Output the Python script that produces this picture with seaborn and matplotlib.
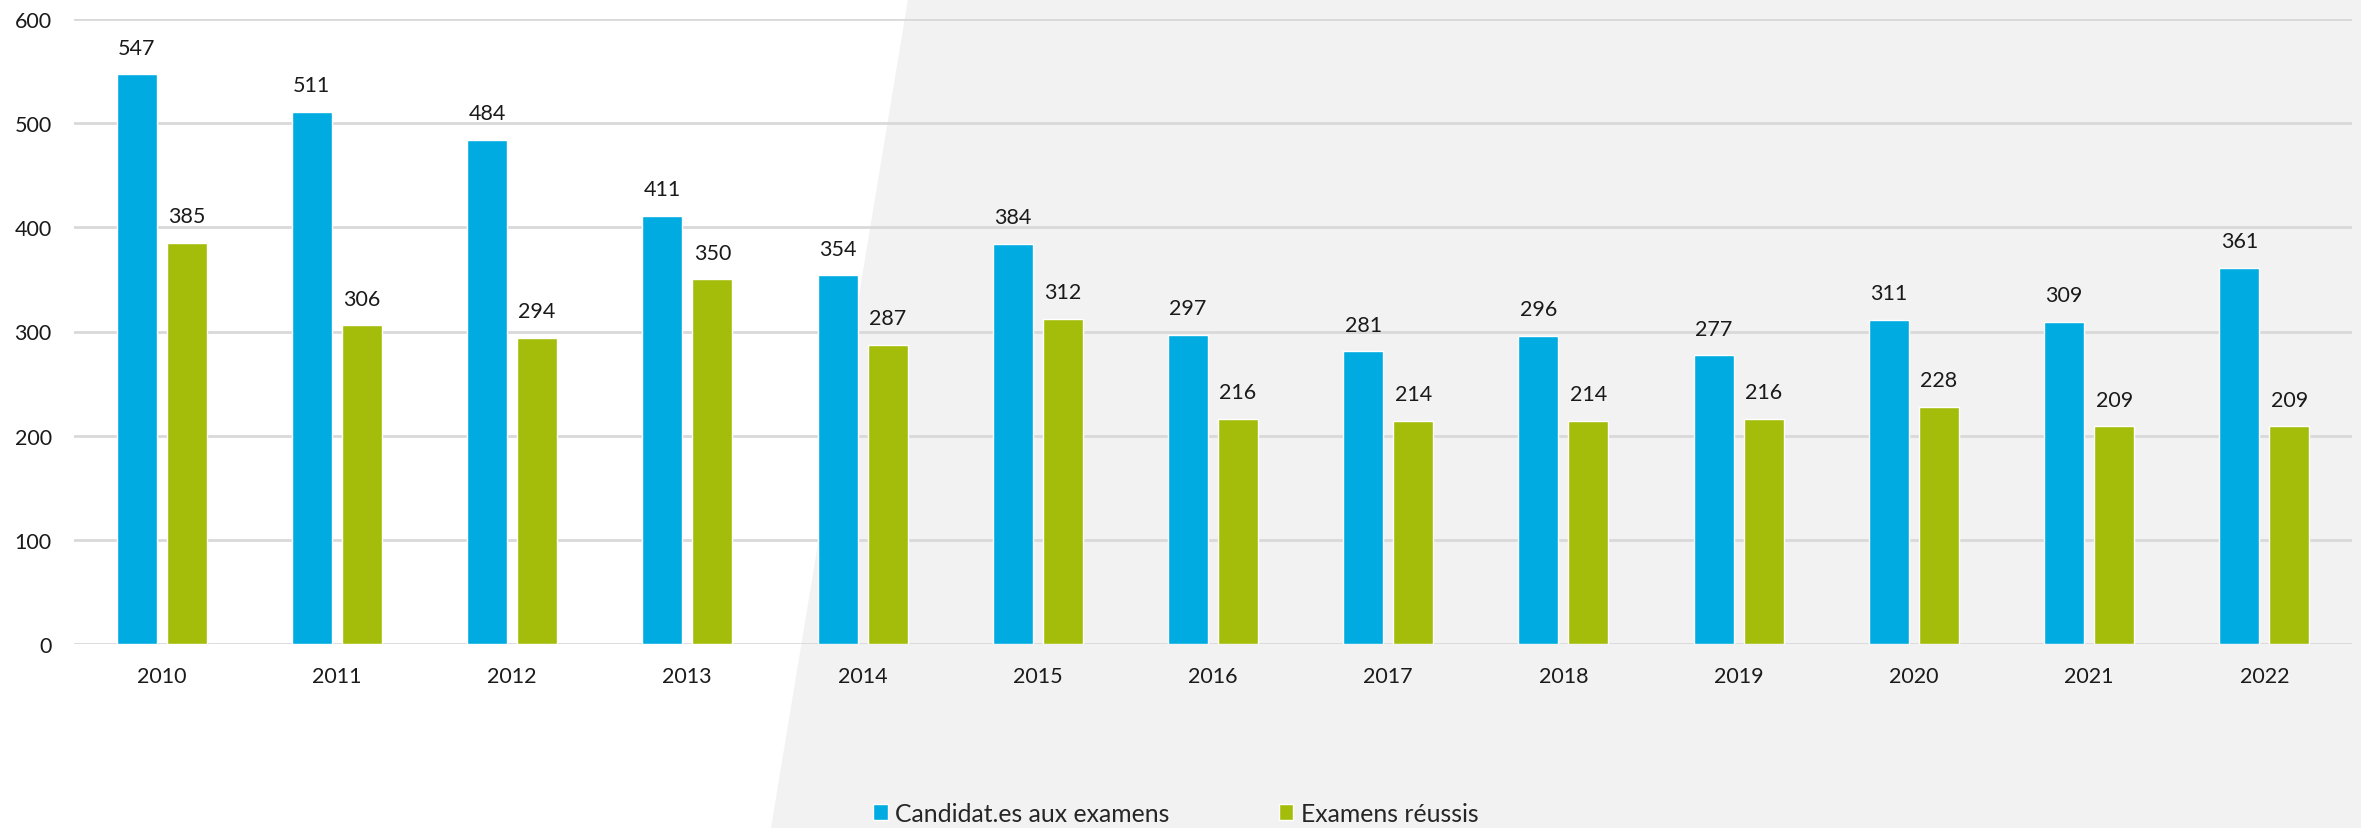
import matplotlib
matplotlib.use("Agg")
import matplotlib.pyplot as plt
from matplotlib.patches import Polygon
import seaborn as sns
import pandas as pd

years = ["2010", "2011", "2012", "2013", "2014", "2015", "2016",
         "2017", "2018", "2019", "2020", "2021", "2022"]
candidats = [547, 511, 484, 411, 354, 384, 297, 281, 296, 277, 311, 309, 361]
reussis = [385, 306, 294, 350, 287, 312, 216, 214, 214, 216, 228, 209, 209]
series_names = ["Candidat.es aux examens", "Examens réussis"]
colors = ["#00ABE2", "#A4BD0A"]

df = pd.DataFrame({
    "year": years * 2,
    "value": candidats + reussis,
    "series": [series_names[0]] * len(years) + [series_names[1]] * len(years),
})

sns.set_theme(style="white")
plt.rcParams["font.family"] = ["Lato", "DejaVu Sans"]

W, H = 2361, 829
fig = plt.figure(figsize=(W / 100, H / 100), dpi=100)
fig.patch.set_facecolor("white")

# diagonal grey background
poly = Polygon([(908 / W, 1.0), (1.0, 1.0), (1.0, 0.0), (771 / W, 0.0)],
               closed=True, transform=fig.transFigure, facecolor="#F2F2F2",
               edgecolor="none", zorder=-10)
fig.patches.append(poly)

ax = fig.add_axes([74 / W, (H - 645) / H, (2352 - 74) / W, (645 - 20) / H])
ax.set_facecolor("none")
ax.set_zorder(1)

sns.barplot(data=df, x="year", y="value", hue="series", order=years,
            hue_order=series_names, palette=colors, width=0.571, gap=0.2,
            saturation=1, ax=ax, zorder=3, errorbar=None)

ax.set_xlim(-0.5, 12.5)
ax.set_ylim(0, 600)
ax.set_yticks([0, 100, 200, 300, 400, 500, 600])
ax.yaxis.grid(True, color="#D9D9D9", linewidth=2)
ax.xaxis.grid(False)
ax.set_axisbelow(True)
for s in ax.spines.values():
    s.set_visible(False)
ax.set_xlabel("")
ax.set_ylabel("")
ax.tick_params(axis="both", length=0, labelsize=15.5, colors="#1A1A1A")
ax.tick_params(axis="x", pad=16)
ax.tick_params(axis="y", pad=16)

for cont in ax.containers:
    ax.bar_label(cont, fmt="%d", padding=12, fontsize=15.5, color="#1A1A1A")

handles, labels = ax.get_legend_handles_labels()
ax.get_legend().remove()
fig.legend(handles, labels, loc="center", bbox_to_anchor=(0.498, 0.018),
           ncol=2, frameon=False, fontsize=17.8, handlelength=0.6,
           handleheight=0.6, handletextpad=0.3, columnspacing=4.4)

fig.savefig("out.png", dpi=100, facecolor=fig.get_facecolor())
